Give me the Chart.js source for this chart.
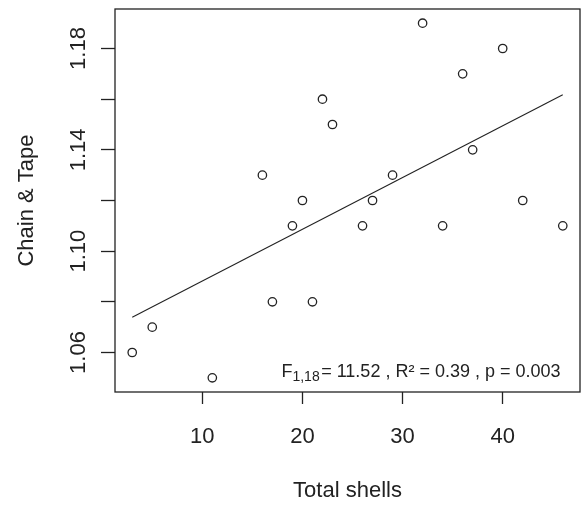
<!DOCTYPE html>
<html>
<head>
<meta charset="utf-8">
<title>Chain & Tape vs Total shells</title>
<script src="https://cdn.jsdelivr.net/npm/chart.js@4"></script>
<style>
  html, body { margin: 0; padding: 0; background: #fff; }
  canvas { display: block; }
</style>
</head>
<body>
<canvas id="shell-chart" width="581" height="506"></canvas>
<script>
// shell counts and chain & tape ratio per site
const totalShells = [3, 5, 11, 16, 17, 19, 20, 21, 22, 23, 26, 27, 29, 32, 34, 36, 37, 40, 42, 46];
const chainTape = [1.06, 1.07, 1.05, 1.13, 1.08, 1.11, 1.12, 1.08, 1.16, 1.15, 1.11, 1.12, 1.13, 1.19, 1.11, 1.17, 1.14, 1.18, 1.12, 1.11];

const xTicks = [10, 20, 30, 40];
const yTicks = [1.06, 1.08, 1.10, 1.12, 1.14, 1.16, 1.18];
const yTickLabels = ["1.06", "", "1.10", "", "1.14", "", "1.18"];

const statMain = "F";
const statSub = "1,18";
const statRest = "= 11.52 , R\u00b2 = 0.39 , p = 0.003";

const FONT = "'Liberation Sans', Arial, sans-serif";
const INK = "#222";

// least squares fit, drawn from the smallest to the largest x
function fitLine(xs, ys) {
  const n = xs.length;
  const mx = xs.reduce((a, b) => a + b, 0) / n;
  const my = ys.reduce((a, b) => a + b, 0) / n;
  let sxy = 0;
  let sxx = 0;
  for (let i = 0; i < n; i++) {
    sxy += (xs[i] - mx) * (ys[i] - my);
    sxx += (xs[i] - mx) * (xs[i] - mx);
  }
  const b = sxy / sxx;
  const a = my - b * mx;
  const x0 = Math.min(...xs);
  const x1 = Math.max(...xs);
  return [
    { x: x0, y: a + b * x0 },
    { x: x1, y: a + b * x1 },
  ];
}

// R style range: data span plus 4% each side
function paddedRange(vals) {
  const lo = Math.min(...vals);
  const hi = Math.max(...vals);
  const pad = (hi - lo) * 0.04;
  return [lo - pad, hi + pad];
}

const [xMin, xMax] = paddedRange(totalShells);
const [yMin, yMax] = paddedRange(chainTape);

const boxPlugin = {
  id: "plotBox",
  afterDraw(chart) {
    const { ctx, chartArea: ca } = chart;
    ctx.save();
    ctx.strokeStyle = INK;
    ctx.lineWidth = 1.3;
    ctx.strokeRect(ca.left, ca.top, ca.right - ca.left, ca.bottom - ca.top);

    // model statistics, bottom right of the plot
    ctx.fillStyle = INK;
    ctx.textBaseline = "alphabetic";
    ctx.textAlign = "left";
    ctx.font = "18px " + FONT;
    const wMain = ctx.measureText(statMain).width;
    const wRest = ctx.measureText(statRest).width;
    ctx.font = "14px " + FONT;
    const wSub = ctx.measureText(statSub).width;
    const gap = 1.5;
    const right = ca.right - 19.5;
    const base = ca.bottom - 15.5;
    let x = right - (wMain + wSub + gap + wRest);
    ctx.font = "18px " + FONT;
    ctx.fillText(statMain, x, base);
    x += wMain;
    ctx.font = "14px " + FONT;
    ctx.fillText(statSub, x, base + 4);
    x += wSub + gap;
    ctx.font = "18px " + FONT;
    ctx.fillText(statRest, x, base);
    ctx.restore();
  },
};

function drawChart() {
  const ctx = document.getElementById("shell-chart");
  const points = totalShells.map((v, i) => ({ x: v, y: chainTape[i] }));

  const myChart = new Chart(ctx, {
    type: "scatter",
    data: {
      datasets: [
        {
          label: "sites",
          data: points,
          borderColor: INK,
          backgroundColor: "rgba(0,0,0,0)",
          borderWidth: 1.3,
          pointRadius: 4.2,
          pointHoverRadius: 4.2,
        },
        {
          type: "line",
          label: "fit",
          data: fitLine(totalShells, chainTape),
          borderColor: INK,
          borderWidth: 1.1,
          pointRadius: 0,
          fill: false,
        },
      ],
    },
    options: {
      responsive: false,
      animation: false,
      devicePixelRatio: 1,
      layout: {
        autoPadding: false,
        padding: { left: 0, top: 9, right: 1, bottom: 0 },
      },
      plugins: {
        legend: { display: false },
        tooltip: { enabled: false },
      },
      scales: {
        x: {
          type: "linear",
          min: xMin,
          max: xMax,
          afterBuildTicks: (scale) => {
            scale.ticks = xTicks.map((v) => ({ value: v }));
          },
          afterFit: (scale) => {
            scale.height = 114;
            scale.paddingLeft = 0;
            scale.paddingRight = 0;
          },
          border: { display: false },
          grid: {
            drawOnChartArea: false,
            drawTicks: true,
            tickLength: 12,
            tickColor: INK,
            tickWidth: 1.3,
          },
          ticks: {
            autoSkip: false,
            maxRotation: 0,
            padding: 20,
            color: INK,
            font: { family: FONT, size: 22 },
            callback: (v) => String(v),
          },
          title: {
            display: true,
            text: "Total shells",
            color: INK,
            font: { family: FONT, size: 22 },
            padding: { top: 0, bottom: 1.7 },
          },
        },
        y: {
          type: "linear",
          min: yMin,
          max: yMax,
          afterBuildTicks: (scale) => {
            scale.ticks = yTicks.map((v) => ({ value: v }));
          },
          afterFit: (scale) => {
            scale.width = 115;
            scale.paddingTop = 0;
            scale.paddingBottom = 0;
          },
          border: { display: false },
          grid: {
            drawOnChartArea: false,
            drawTicks: true,
            tickLength: 14,
            tickColor: INK,
            tickWidth: 1.3,
          },
          ticks: {
            autoSkip: false,
            minRotation: 90,
            maxRotation: 90,
            crossAlign: "center",
            padding: 1,
            color: INK,
            font: { family: FONT, size: 22 },
            callback: (v, i) => yTickLabels[i],
          },
          title: {
            display: true,
            text: "Chain & Tape",
            color: INK,
            font: { family: FONT, size: 22 },
            padding: { top: 13.4, bottom: 0 },
          },
        },
      },
    },
    plugins: [boxPlugin],
  });

  return myChart;
}

drawChart();
</script>
</body>
</html>
